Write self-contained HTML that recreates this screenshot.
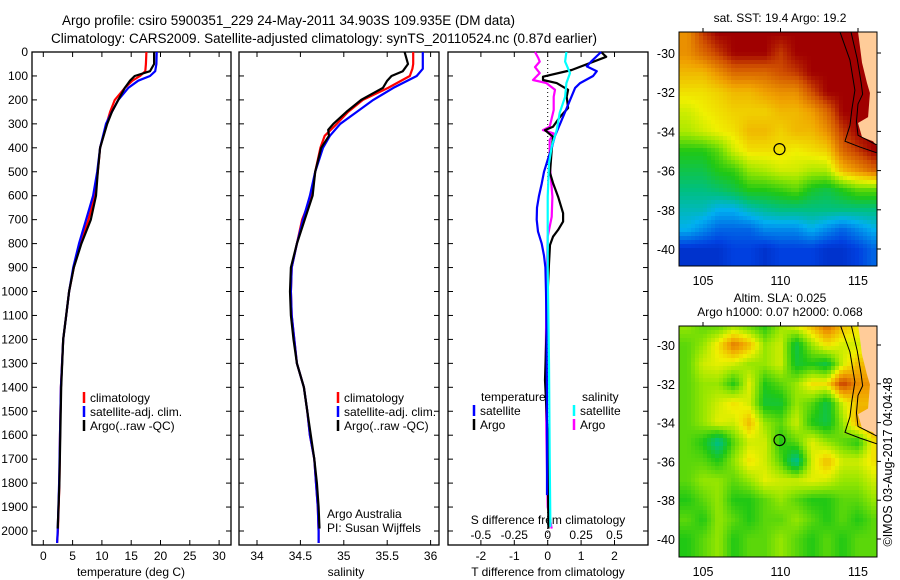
<!DOCTYPE html>
<html><head><meta charset="utf-8"><style>
html,body{margin:0;padding:0;background:#fff;}
svg{display:block;font-family:"Liberation Sans",sans-serif;}
</style></head><body>
<svg id="fig" xmlns="http://www.w3.org/2000/svg" width="900" height="580" viewBox="0 0 900 580">
<rect width="900" height="580" fill="#fff"/>
<text x="62" y="25" font-size="13.5">Argo profile: csiro 5900351_229 24-May-2011 34.903S 109.935E (DM data)</text>
<text x="51" y="43" font-size="13.5">Climatology: CARS2009. Satellite-adjusted climatology: synTS_20110524.nc (0.87d earlier)</text>
<g id="g1"></g>
<g id="g2"></g>
<g id="g3"></g>
<g id="m1"></g>
<g id="m2"></g>
<text transform="translate(892,462) rotate(-90)" text-anchor="middle" font-size="12.5">©IMOS 03-Aug-2017 04:04:48</text>
</svg>
<script>
// ---- profile data ----
const tDepth=[0,50,80,100,120,150,200,250,300,400,500,600,700,800,900,1000,1100,1200,1400,1600,1800,2000,2050];
const tClim=[17.6,17.5,17.4,16.5,15.2,13.9,12.2,11.4,10.8,9.7,9.3,8.8,7.7,6.3,5.2,4.4,3.9,3.4,3.0,2.85,2.75,2.5,2.35];
const tSat=[19.35,19.3,19.1,18.2,16.2,14.5,12.8,11.7,10.7,9.7,9.2,8.5,7.3,6.1,5.1,4.4,3.9,3.4,3.0,2.85,2.7,2.45,2.35];
const argoDepth=[0,50,80,100,120,150,200,250,300,400,500,600,700,800,900,1000,1100,1200,1400,1600,1800,1990];
const tArgo=[18.9,18.9,18.2,15.6,14.8,13.9,12.8,11.7,10.9,9.7,9.3,9.0,8.1,6.5,5.2,4.4,3.9,3.4,3.05,2.9,2.75,2.45];
const sDepth=[0,50,70,100,150,200,250,300,350,400,500,600,700,800,900,1000,1100,1200,1300,1400,1500,1600,1700,1800,1900,2000,2050];
const sClim=[35.80,35.80,35.79,35.76,35.51,35.22,35.05,34.92,34.78,34.73,34.67,34.63,34.52,34.46,34.40,34.39,34.40,34.43,34.46,34.54,34.58,34.61,34.66,34.68,34.70,34.71,34.71];
const sSat=[35.91,35.91,35.91,35.84,35.57,35.34,35.15,34.96,34.84,34.76,34.67,34.61,34.53,34.46,34.40,34.39,34.40,34.43,34.46,34.54,34.58,34.61,34.66,34.68,34.70,34.71,34.71];
const sArgoDepth=[0,50,80,100,120,150,200,250,300,325,350,400,500,600,700,800,900,1000,1100,1200,1300,1400,1500,1600,1700,1800,1900,1990];
const sArgo=[35.70,35.74,35.68,35.55,35.50,35.45,35.20,35.03,34.88,34.82,34.83,34.74,34.67,34.64,34.55,34.46,34.39,34.38,34.39,34.42,34.46,34.54,34.58,34.62,34.66,34.69,34.71,34.72];
const dtSatDepth=[0,40,60,80,100,130,150,200,250,300,350,400,450,500,550,600,650,700,750,800,850,900,1000,1200,1500,1850];
const dtSat=[1.6,1.3,1.17,1.47,1.36,0.97,0.82,0.67,0.52,0.37,0.22,0.12,0.0,-0.11,-0.18,-0.26,-0.32,-0.33,-0.29,-0.18,-0.11,-0.07,-0.05,-0.03,-0.02,-0.02];
const dtArgoDepth=[0,20,75,103,117,130,158,187,234,270,312,326,354,409,505,547,604,673,708,743,771,806,883,1000,1370,1600,1990];
const dtArgo=[1.6,1.75,0.72,-0.14,-0.14,0.27,0.61,0.57,0.61,0.37,0.16,-0.08,0.16,0.12,0.07,0.16,0.31,0.46,0.46,0.31,0.16,0.07,0.04,0.0,-0.08,0.0,0.02];
const dsSatDepth=[0,40,88,130,187,254,326,395,465,604,900,1300,1700,1983];
const dsSat=[0.14,0.13,0.167,0.14,0.13,0.09,0.067,0.03,0.01,0.0,0.0,0.01,0.015,0.02];
const dsArgoDepth=[0,25,40,63,88,117,130,158,187,242,312,326,340,367,463,604,688,771,1020,1300,1600,1900,1990];
const dsArgo=[-0.095,-0.07,-0.06,-0.095,-0.06,-0.11,-0.01,0.055,0.045,0.045,0.015,-0.035,0.045,0.015,0.015,0.035,0.03,0.0,-0.01,-0.015,-0.01,0.0,0.03];
const depthTicks=[0,100,200,300,400,500,600,700,800,900,1000,1100,1200,1300,1400,1500,1600,1700,1800,1900,2000];
const tTicks=[0,5,10,15,20,25,30];
const sTicks=[34,34.5,35,35.5,36];
const sTickLabels=["34","34.5","35","35.5","36"];
const dtTicks=[-2,-1,0,1,2];
const dsTicks=[-0.5,-0.25,0,0.25,0.5];
const dsTickLabels=["-0.5","-0.25","0","0.25","0.5"];
// ---- map data (rows lat -29..-40, cols lon 104..116; 0..1 colour scale) ----
const mapLats=[-29,-30,-31,-32,-33,-34,-35,-36,-37,-38,-39,-40];
const mapLons=[104,105,106,107,108,109,110,111,112,113,114,115,116];
const sstField=[
[0.8,0.9,0.95,0.95,0.95,0.95,0.95,0.95,0.95,0.95,0.95,0.95,0.95],
[0.8,0.85,0.9,0.95,0.95,0.95,0.9,0.95,0.95,0.95,0.95,0.95,0.95],
[0.75,0.75,0.8,0.85,0.85,0.85,0.88,0.9,0.95,0.95,0.95,0.95,0.95],
[0.7,0.7,0.72,0.75,0.75,0.78,0.8,0.8,0.88,0.95,0.95,0.95,0.95],
[0.65,0.68,0.7,0.72,0.72,0.72,0.75,0.75,0.78,0.85,0.95,0.95,0.95],
[0.62,0.65,0.68,0.7,0.75,0.75,0.72,0.75,0.75,0.8,0.9,0.95,0.95],
[0.5,0.5,0.55,0.65,0.7,0.7,0.7,0.68,0.7,0.72,0.85,0.9,0.95],
[0.45,0.45,0.5,0.52,0.6,0.62,0.65,0.65,0.62,0.62,0.75,0.8,0.85],
[0.4,0.4,0.42,0.45,0.5,0.5,0.52,0.55,0.48,0.45,0.5,0.55,0.55],
[0.35,0.35,0.3,0.3,0.35,0.38,0.4,0.4,0.4,0.4,0.4,0.4,0.4],
[0.3,0.25,0.2,0.2,0.2,0.25,0.25,0.25,0.3,0.25,0.2,0.25,0.3],
[0.12,0.12,0.12,0.15,0.15,0.12,0.15,0.15,0.15,0.12,0.12,0.15,0.2]];
const slaField=[
[0.55,0.5,0.5,0.55,0.5,0.45,0.55,0.62,0.7,0.8,0.7,0.65,0.65],
[0.5,0.55,0.65,0.78,0.7,0.55,0.6,0.4,0.55,0.65,0.6,0.6,0.6],
[0.5,0.6,0.62,0.6,0.55,0.55,0.6,0.42,0.45,0.4,0.6,0.7,0.7],
[0.5,0.55,0.55,0.45,0.62,0.45,0.5,0.55,0.65,0.65,0.85,0.75,0.75],
[0.5,0.55,0.6,0.65,0.6,0.42,0.42,0.55,0.5,0.4,0.6,0.7,0.7],
[0.5,0.55,0.62,0.6,0.7,0.55,0.5,0.6,0.45,0.4,0.55,0.72,0.75],
[0.5,0.45,0.33,0.5,0.6,0.6,0.45,0.5,0.62,0.55,0.5,0.45,0.65],
[0.5,0.5,0.45,0.55,0.65,0.6,0.5,0.32,0.6,0.7,0.6,0.6,0.65],
[0.5,0.55,0.55,0.5,0.55,0.62,0.6,0.6,0.62,0.6,0.55,0.55,0.6],
[0.45,0.5,0.55,0.45,0.45,0.5,0.55,0.5,0.45,0.45,0.5,0.5,0.55],
[0.5,0.45,0.55,0.5,0.45,0.5,0.5,0.55,0.5,0.45,0.5,0.45,0.5],
[0.45,0.5,0.55,0.45,0.5,0.5,0.55,0.5,0.45,0.5,0.45,0.5,0.5]];
const landLon=[115.0,115.26,115.58,115.77,115.65,115.0,115.13,115.26,115.97,116.3,116.3];
const landLat=[-28.9,-30.5,-31.53,-32.04,-33.27,-33.57,-33.93,-34.29,-34.5,-34.85,-28.9];
const iso1Lon=[113.84,114.48,114.8,114.6,114.48,114.16,115.13,116.23];
const iso1Lat=[-28.93,-30.36,-31.9,-32.9,-33.7,-34.5,-34.8,-35.1];
const iso2Lon=[114.55,114.95,115.2,115.3,115.0,114.9,115.0,115.5,116.23];
const iso2Lat=[-28.93,-30.3,-31.5,-32.1,-32.6,-33.5,-34.2,-34.4,-34.7];
const argoLon=[109.935], argoLat=[-34.903];
const lonTicks=[105,110,115];
const latTicks=[-30,-32,-34,-36,-38,-40];

const NS='http://www.w3.org/2000/svg';
function mk(parent,tag,attrs,txt){const e=document.createElementNS(NS,tag);for(const k in attrs)e.setAttribute(k,attrs[k]);if(txt!==undefined)e.textContent=txt;parent.appendChild(e);return e;}

const TOP=52, BOT=545;
const yD=d=>TOP+0.2395*d;
const xT=t=>43.3+5.86*t;
const xS=s=>257+86.8*(s-34);
const xDT=v=>547.7+33.4*v;
const xDS=v=>547.7+133.6*v;

function frame(g,x0,x1,name){
  const r=mk(g,'rect',{x:x0,y:TOP,width:x1-x0,height:BOT-TOP,fill:'none',stroke:'#000','stroke-width':1.3});
  
  
  depthTicks.forEach(d=>{
    const t1=mk(g,'line',{x1:x0,x2:x0+5,y1:yD(d),y2:yD(d),stroke:'#000'});
    
    
    const t2=mk(g,'line',{x1:x1-5,x2:x1,y1:yD(d),y2:yD(d),stroke:'#000'});
    
    
  });
}
function xticks(g,vals,fx,labels,ly){
  vals.forEach((v,i)=>{
    const a=mk(g,'line',{x1:fx(v),x2:fx(v),y1:BOT,y2:BOT-5,stroke:'#000'});
    
    
    const b=mk(g,'line',{x1:fx(v),x2:fx(v),y1:TOP,y2:TOP+5,stroke:'#000'});
    
    
    if(labels){
      const t=mk(g,'text',{x:fx(v),y:ly,'text-anchor':'middle','font-size':12},labels[i]);
      
      
    }
  });
}
function line(g,depths,vals,fx,color,name){
  const pts=depths.map((d,i)=>fx(vals[i]).toFixed(1)+','+yD(d).toFixed(1)).join(' ');
  const p=mk(g,'polyline',{points:pts,fill:'none',stroke:color,'stroke-width':2.2,'stroke-linejoin':'round'});
  
  
}
function legend(g,x,y,color,label,name){
  const b=mk(g,'line',{x1:x,x2:x,y1:y-10,y2:y+1,stroke:color,'stroke-width':2.5});
  
  
  const t=mk(g,'text',{x:x+6,y:y,'font-size':12},label);
  
  
}

const g1=document.getElementById('g1');
frame(g1,32,231,'temperature');
depthTicks.forEach(d=>{
  const t=mk(g1,'text',{x:28,y:yD(d)+4,'text-anchor':'end','font-size':12},String(d));
  
  
});
xticks(g1,tTicks,xT,tTicks.map(String),560);
const xl1=mk(g1,'text',{x:131,y:576,'text-anchor':'middle','font-size':12},'temperature (deg C)');


line(g1,tDepth,tClim,xT,'#ff0000','temp-climatology-line');
line(g1,tDepth,tSat,xT,'#0000ff','temp-satellite-line');
line(g1,argoDepth,tArgo,xT,'#000000','temp-argo-line');
legend(g1,84,402,'#ff0000','climatology','legend-climatology');
legend(g1,84,416,'#0000ff','satellite-adj. clim.','legend-satellite');
legend(g1,84,430,'#000000','Argo(..raw -QC)','legend-argo');

const g2=document.getElementById('g2');
frame(g2,239,439,'salinity');
xticks(g2,sTicks,xS,sTickLabels,560);
const xl2=mk(g2,'text',{x:346,y:576,'text-anchor':'middle','font-size':12},'salinity');


line(g2,sDepth,sClim,xS,'#ff0000','sal-climatology-line');
line(g2,sDepth,sSat,xS,'#0000ff','sal-satellite-line');
line(g2,sArgoDepth,sArgo,xS,'#000000','sal-argo-line');
legend(g2,338,402,'#ff0000','climatology','legend-climatology');
legend(g2,338,416,'#0000ff','satellite-adj. clim.','legend-satellite');
legend(g2,338,430,'#000000','Argo(..raw -QC)','legend-argo');
const aa=mk(g2,'text',{x:327,y:518,'font-size':12},'Argo Australia');


const pi=mk(g2,'text',{x:327,y:532,'font-size':12},'PI: Susan Wijffels');



const g3=document.getElementById('g3');
frame(g3,448,648,'difference');
xticks(g3,dtTicks,xDT,dtTicks.map(String),560);
const zl=mk(g3,'line',{x1:xDT(0),x2:xDT(0),y1:TOP,y2:BOT,stroke:'#000','stroke-dasharray':'1,3'});


dsTicks.forEach((v,i)=>{
  const t=mk(g3,'text',{x:xDS(v),y:539,'text-anchor':'middle','font-size':12},dsTickLabels[i]);
  
  
});
const st=mk(g3,'text',{x:548,y:524,'text-anchor':'middle','font-size':12},'S difference from climatology');


const tt=mk(g3,'text',{x:548,y:576,'text-anchor':'middle','font-size':12},'T difference from climatology');


line(g3,dsArgoDepth,dsArgo,xDS,'#ff00ff','s-argo-diff-line');
line(g3,dtArgoDepth,dtArgo,xDT,'#000000','t-argo-diff-line');
line(g3,dtSatDepth,dtSat,xDT,'#0000ff','t-sat-diff-line');
line(g3,dsSatDepth,dsSat,xDS,'#00ffff','s-sat-diff-line');
const lt=mk(g3,'text',{x:481,y:401,'font-size':12},'temperature');


const ls=mk(g3,'text',{x:582,y:401,'font-size':12},'salinity');


legend(g3,474,415,'#0000ff','satellite','legend-t-satellite');
legend(g3,474,429,'#000000','Argo','legend-t-argo');
legend(g3,574,415,'#00ffff','satellite','legend-s-satellite');
legend(g3,574,429,'#ff00ff','Argo','legend-s-argo');

const stops=[[0,[0,0,128]],[0.15,[0,64,224]],[0.3,[0,176,240]],[0.4,[0,192,128]],[0.5,[32,200,20]],[0.6,[150,230,0]],[0.68,[240,240,0]],[0.78,[240,160,0]],[0.88,[208,80,0]],[0.95,[160,0,0]],[1,[140,0,0]]];
function cmap(v){v=Math.max(0,Math.min(1,v));for(let i=1;i<stops.length;i++){if(v<=stops[i][0]){const a=stops[i-1],b=stops[i];const f=(v-a[0])/(b[0]-a[0]);const c=a[1].map((x,k)=>Math.round(x+(b[1][k]-x)*f));return 'rgb('+c.join(',')+')';}}return 'rgb(140,0,0)';}
function field(F,lon,lat){
  let c=(lon-mapLons[0]); let r=(mapLats[0]-lat);
  c=Math.max(0,Math.min(mapLons.length-1.001,c)); r=Math.max(0,Math.min(mapLats.length-1.001,r));
  const c0=Math.floor(c),r0=Math.floor(r),fc=c-c0,fr=r-r0;
  return F[r0][c0]*(1-fc)*(1-fr)+F[r0][c0+1]*fc*(1-fr)+F[r0+1][c0]*(1-fc)*fr+F[r0+1][c0+1]*fc*fr;
}
function drawMap(id,F,off,top,bot,lat30,lat40,title,title2,name){
  const g=document.getElementById(id);
  const L=679,R=877;
  const xL=lon=>703+15.5*(lon-105);
  const py=(lat40-lat30)/10;
  const yL=lat=>lat30+py*(-30-lat);
  const lonOf=x=>105+(x-703)/15.5;
  const latOf=y=>-30-(y-lat30)/py;
  const step=4;
  for(let y=top;y<bot;y+=step){
    for(let x=L;x<R;x+=step){
      const v=field(F,lonOf(x+step/2),latOf(y+step/2))+off;
      const c=mk(g,'rect',{x:x,y:y,width:Math.min(step,R-x)+0.3,height:Math.min(step,bot-y)+0.3,fill:cmap(v)});
      
      
    }
  }
  const cp='cp'+id;
  const cl=mk(g,'clipPath',{id:cp}); mk(cl,'rect',{x:L,y:top,width:R-L,height:bot-top});
  const land=mk(g,'polygon',{points:landLon.map((lo,i)=>xL(lo)+','+yL(landLat[i])).join(' '),fill:'#ffcc99','clip-path':'url(#'+cp+')'});
  
  
  [[iso1Lon,iso1Lat],[iso2Lon,iso2Lat]].forEach(([lo,la])=>{
    const p=mk(g,'polyline',{points:lo.map((v,i)=>xL(v)+','+yL(la[i])).join(' '),fill:'none',stroke:'#000','stroke-width':1,'clip-path':'url(#'+cp+')'});
    
    
  });
  const fr=mk(g,'rect',{x:L,y:top,width:R-L,height:bot-top,fill:'none',stroke:'#000','stroke-width':1});
  
  
  const ci=mk(g,'circle',{cx:xL(argoLon[0]),cy:yL(argoLat[0]),r:5.5,fill:'none',stroke:'#000','stroke-width':1.2});
  
  
  lonTicks.forEach(v=>{
    mk(g,'line',{x1:xL(v),x2:xL(v),y1:top-4,y2:top,stroke:'#000'});
    const t=mk(g,'text',{x:xL(v),y:bot+19,'text-anchor':'middle','font-size':12.5},String(v));
    
    
  });
  latTicks.forEach(v=>{
    mk(g,'line',{x1:R,x2:R+4,y1:yL(v),y2:yL(v),stroke:'#000'});
    const t=mk(g,'text',{x:675,y:yL(v)+5,'text-anchor':'end','font-size':12.5},String(v));
    
    
  });
  const tl=mk(g,'text',{x:780,y:title2?top-24:top-10,'text-anchor':'middle','font-size':12},title);
  
  
  if(title2){
    const t2=mk(g,'text',{x:780,y:top-10,'text-anchor':'middle','font-size':12},title2);
    
    
  }
}
drawMap('m1',sstField,0,32,266,53,249,'sat. SST: 19.4 Argo: 19.2',null,'sst-map');
drawMap('m2',slaField,0.05,326,557,345,539,'Altim. SLA: 0.025','Argo h1000: 0.07 h2000: 0.068','sla-map');
</script>
</body></html>
